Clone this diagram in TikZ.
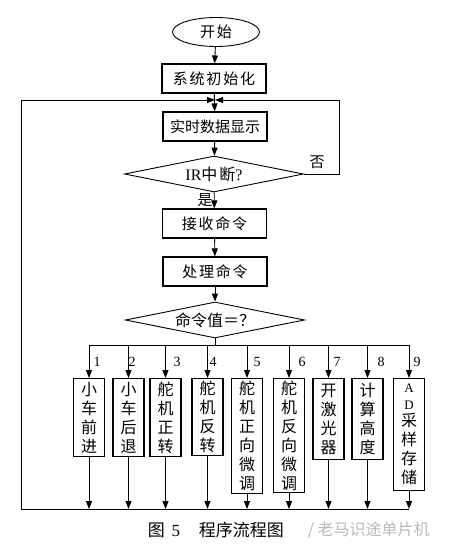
\documentclass[tikz,border=0pt]{standalone}
\usepackage{fontspec}
\setmainfont{Liberation Serif}
\newfontfamily\cjk{Noto Sans CJK SC}
\newfontfamily\cjkwide[LetterSpace=12]{Noto Sans CJK SC}
\usetikzlibrary{shapes.geometric,arrows.meta}

\begin{document}
\begin{tikzpicture}[x=1pt,y=-1pt,line width=0.9pt,
    box/.style={draw,line width=1.1pt,inner sep=0pt,minimum width=104pt,minimum height=29pt,font=\cjkwide\fontsize{15}{18}\selectfont},
    decide/.style={draw,diamond,aspect=5,inner sep=0pt,minimum width=179pt,minimum height=36pt,font=\fontsize{16}{18}\selectfont},
    branch/.style={draw,line width=1.1pt,inner sep=0pt,minimum width=31pt,anchor=north,align=center,font=\cjk\fontsize{16}{19}\selectfont},
    arr/.style={-{Triangle[length=8pt,width=6pt]}}]
  \useasboundingbox (0,0) rectangle (454,549);
  % main column
  \node[draw,ellipse,inner sep=0pt,minimum width=87pt,minimum height=29pt,font=\cjkwide\fontsize{15}{18}\selectfont] (start) at (216,32) {开始};
  \node[box] (init) at (214,78.5) {系统初始化};
  \node[box,font=\cjk\fontsize{15}{18}\selectfont] (show) at (215,126.5) {实时数据显示};
  \node[decide] (ir) at (214,174) {IR{\cjkwide 中断}?};
  \node[box] (recv) at (214.5,223.5) {接收命令};
  \node[box] (proc) at (215,271.5) {处理命令};
  \node[decide] (cmd) at (215,320) {\cjk 命令值＝？};
  \draw[arr] (start) -- (init);
  \draw[arr] (init) -- (show);
  \draw[arr] (show) -- (ir);
  \draw[arr] (ir) -- (recv);
  \draw[arr] (recv) -- (proc);
  \draw[arr] (proc) -- (cmd);
  \node[font=\cjk\fontsize{15}{18}\selectfont] (yes) at (205,200) {是};
  \node[font=\cjk\fontsize{15}{18}\selectfont] (no) at (317,162) {否};
  % loops back to the display
  \coordinate (top) at (215,100);
  \coordinate (rc) at (339,100);
  \coordinate (bus) at (215,345);
  \coordinate (bottom) at (21,509);
  \draw[arr] (ir.east) -| (rc) -- (top);
  \draw[arr] (bottom) |- (top);
  % branches
  \foreach \i/\x/\h/\lx/\t in {
      1/89/78/97/小\\车\\前\\进,
      2/128.5/78/132/小\\车\\后\\退,
      3/165.5/78/177/舵\\机\\正\\转,
      4/207.5/77/213/舵\\机\\反\\转,
      5/247/115/257/舵\\机\\正\\向\\微\\调,
      6/289/114/302/舵\\机\\反\\向\\微\\调,
      7/328.5/81/337/开\\激\\光\\器,
      8/367.5/81/381/计\\算\\高\\度,
      9/409/112/417/{\rmfamily\fontsize{13}{14}\selectfont A}\\[-2pt]{\rmfamily\fontsize{13}{14}\selectfont D}\\[-2pt]采\\样\\存\\储}{
    \node[branch,minimum height=\h pt] (b\i) at (\x,378) {\t};
    \node[font=\fontsize{14}{16}\selectfont] (n\i) at (\lx,362) {\i};
    \draw[arr] (b\i.north |- bus) -- (b\i.north);
    \draw[arr] (b\i.south) -- (b\i.south |- bottom);
  }
  \draw (cmd.south) -- (bus);
  \draw (b1.north |- bus) -- (b9.north |- bus);
  \draw (bottom) -- (b9.south |- bottom);
  % caption
  \node[anchor=west,font=\fontsize{17}{18}\selectfont] (cap) at (144,530) {{\cjk 图}\hspace{0.4em}5\hspace{1.1em}{\cjk 程序流程图}};
  \node[anchor=west,text=gray!55,font=\cjk\fontsize{16}{18}\selectfont] (mark) at (304,530) {/ 老马识途单片机};
\end{tikzpicture}
\end{document}
